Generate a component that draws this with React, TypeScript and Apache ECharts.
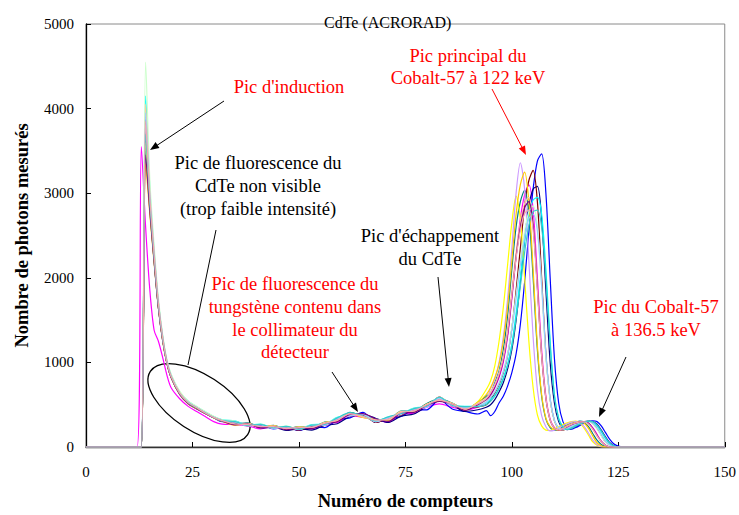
import React, { useEffect, useRef } from "react";
import * as echarts from "echarts";

// Channel grid (x) shared by every spectrum
const channels = [
  0, 12, 13, 14, 15, 16, 17, 18, 19, 20, 22, 24, 26, 28, 30, 32,
  35, 38, 41, 44, 47, 50, 53, 56, 59, 62, 65, 68, 71, 74, 77, 80, 83, 86, 89, 92,
  94, 95, 96, 97, 98, 99, 100, 101, 102, 103, 104, 105, 106, 107, 108, 109, 110,
  111, 112, 113, 114, 115, 116, 117, 118, 119, 120, 121, 122, 123, 124, 125, 126,
  150,
];

const xTicks = [0, 25, 50, 75, 100, 125, 150];
const yTicks = [0, 1000, 2000, 3000, 4000, 5000];

const sMagenta = [
  0, 0, 3550, 2600, 1850, 1380, 1250, 1060, 850, 700, 570, 480, 420, 360, 300, 270,
  265, 250, 215, 240, 205, 225, 215, 280, 290, 370, 350, 330, 290, 390, 400, 470, 510, 470, 440, 470,
  540, 600, 700, 820, 1000, 1300, 1750, 2250, 2700, 2980, 3100, 2800, 2000, 1150, 600, 330, 230,
  200, 210, 235, 260, 280, 295, 300, 285, 230, 150, 70, 25, 5, 0, 0, 0,
  0,
];
const sBlue = [
  0, 0, 0, 3650, 2850, 2200, 1650, 1260, 990, 820, 620, 510, 450, 395, 345, 300,
  300, 255, 260, 215, 235, 195, 240, 230, 320, 345, 410, 290, 330, 360, 440, 440, 560, 450, 420, 390,
  430, 370, 420, 520, 600, 720, 880, 1100, 1450, 1950, 2550, 3050, 3380, 3465, 3000, 2000, 1050,
  520, 300, 220, 210, 230, 255, 280, 300, 310, 300, 250, 170, 90, 35, 10, 0,
  0,
];
const sNavy = [
  0, 0, 0, 3900, 2950, 2280, 1700, 1300, 1010, 840, 640, 525, 465, 405, 350, 315,
  270, 280, 225, 235, 195, 215, 200, 255, 275, 360, 385, 340, 290, 365, 390, 480, 545, 500, 420, 440,
  470, 500, 560, 650, 760, 920, 1150, 1500, 1950, 2450, 2850, 3050, 3080, 2700, 1850, 1000, 520,
  300, 220, 205, 220, 245, 270, 290, 305, 300, 270, 200, 120, 50, 15, 0, 0,
  0,
];
const sMaroon = [
  0, 0, 0, 3750, 2900, 2250, 1680, 1280, 1000, 830, 630, 515, 455, 400, 348, 308,
  295, 250, 265, 220, 235, 200, 250, 255, 335, 370, 375, 290, 345, 380, 445, 475, 590, 485, 470, 475,
  500, 560, 640, 740, 880, 1080, 1400, 1850, 2350, 2850, 3150, 3270, 2900, 2000, 1100, 560, 310,
  220, 200, 215, 240, 265, 285, 300, 305, 280, 220, 140, 60, 20, 0, 0, 0,
  0,
];
const sTeal = [
  0, 0, 0, 3500, 2800, 2200, 1650, 1270, 995, 825, 635, 530, 470, 410, 355, 318,
  275, 285, 240, 255, 215, 240, 230, 295, 310, 410, 360, 330, 320, 425, 425, 515, 565, 520, 445, 525,
  600, 640, 760, 900, 1150, 1550, 2100, 2600, 2900, 3035, 2750, 2000, 1150, 600, 330, 230, 195,
  210, 235, 260, 280, 295, 305, 290, 240, 160, 80, 30, 5, 0, 0, 0, 0,
  0,
];
const sCyan = [
  0, 0, 0, 4150, 3050, 2320, 1720, 1310, 1020, 850, 650, 540, 475, 415, 360, 320,
  310, 260, 270, 225, 245, 210, 265, 270, 350, 380, 395, 305, 355, 390, 460, 480, 585, 495, 480, 490,
  520, 560, 610, 700, 820, 980, 1220, 1580, 2000, 2450, 2780, 2920, 2950, 2750, 2100, 1250, 620,
  340, 240, 210, 225, 250, 275, 295, 305, 295, 250, 180, 100, 40, 10, 0, 0,
  0,
];
const sYellow = [
  0, 0, 0, 3600, 2850, 2230, 1670, 1275, 1000, 828, 628, 518, 458, 398, 346, 306,
  260, 275, 230, 250, 210, 235, 225, 290, 305, 395, 350, 325, 320, 415, 415, 505, 545, 510, 440, 535,
  680, 780, 960, 1250, 1650, 2150, 2650, 2965, 2700, 2000, 1250, 700, 380, 250, 200, 195, 215,
  240, 265, 285, 300, 305, 280, 220, 140, 60, 20, 0, 0, 0, 0, 0, 0,
  0,
];
const sViolet = [
  0, 0, 0, 3800, 2920, 2260, 1690, 1290, 1005, 835, 635, 522, 462, 402, 350, 310,
  295, 248, 262, 218, 236, 204, 252, 254, 332, 364, 386, 298, 342, 384, 442, 468, 570, 486, 464, 500,
  560, 690, 800, 1000, 1300, 1750, 2350, 3000, 3360, 3050, 2200, 1300, 680, 370, 240, 190, 200,
  225, 250, 275, 295, 300, 290, 240, 165, 80, 30, 5, 0, 0, 0, 0, 0,
  0,
];
const sGold = [
  0, 0, 0, 3350, 2750, 2170, 1640, 1255, 985, 818, 622, 512, 452, 396, 344, 304,
  262, 276, 236, 252, 214, 236, 228, 286, 308, 396, 354, 322, 318, 416, 418, 502, 550, 512, 438, 526,
  620, 700, 820, 980, 1250, 1650, 2200, 2750, 3100, 3250, 2900, 2100, 1200, 620, 340, 240, 210,
  200, 225, 255, 275, 290, 300, 280, 220, 130, 50, 15, 0, 0, 0, 0, 0,
  0,
];
const sLightGreen = [
  0, 0, 0, 4550, 3150, 2380, 1760, 1330, 1035, 860, 660, 545, 480, 420, 362, 322,
  306, 258, 270, 228, 246, 212, 260, 268, 346, 378, 392, 304, 352, 394, 456, 484, 586, 494, 476, 494,
  540, 590, 660, 760, 900, 1100, 1420, 1800, 2200, 2550, 2780, 2850, 2600, 1900, 1050, 550, 310,
  225, 205, 220, 245, 270, 290, 300, 300, 270, 210, 130, 55, 15, 0, 0, 0,
  0,
];
const sPeach = [
  0, 0, 0, 4050, 3000, 2300, 1710, 1300, 1012, 840, 642, 528, 466, 406, 352, 312,
  268, 280, 238, 250, 212, 234, 226, 288, 312, 400, 356, 326, 322, 418, 420, 506, 552, 516, 442, 520,
  580, 650, 740, 880, 1080, 1400, 1850, 2300, 2650, 2880, 2950, 2650, 1900, 1100, 580, 320, 225,
  205, 220, 245, 270, 285, 300, 295, 270, 210, 130, 60, 20, 0, 0, 0, 0,
  0,
];
const sLightBlue = [
  0, 0, 0, 3950, 2980, 2290, 1700, 1295, 1008, 836, 638, 526, 464, 404, 350, 310,
  298, 252, 266, 224, 242, 208, 256, 262, 340, 372, 388, 300, 348, 392, 450, 480, 580, 490, 472, 484,
  530, 580, 650, 750, 890, 1080, 1380, 1750, 2150, 2480, 2700, 2750, 2550, 1900, 1100, 580, 320,
  230, 205, 218, 242, 268, 288, 300, 302, 285, 230, 150, 70, 25, 5, 0, 0,
  0,
];
const sPurple = [
  0, 0, 0, 3450, 2780, 2190, 1645, 1262, 992, 822, 625, 514, 455, 397, 345, 305,
  262, 272, 228, 244, 204, 226, 218, 276, 298, 386, 394, 334, 302, 402, 410, 492, 538, 506, 432, 500,
  560, 620, 710, 840, 1030, 1330, 1780, 2250, 2600, 2830, 2900, 2620, 1880, 1080, 570, 315, 222,
  202, 215, 240, 265, 282, 296, 298, 280, 220, 140, 65, 22, 0, 0, 0, 0,
  0,
];
const sSky = [
  0, 0, 0, 3700, 2880, 2240, 1675, 1280, 1002, 832, 634, 524, 463, 404, 350, 311,
  300, 256, 268, 226, 244, 210, 258, 266, 344, 406, 368, 308, 356, 396, 454, 482, 588, 492, 478, 478,
  500, 540, 600, 690, 800, 960, 1180, 1520, 1900, 2300, 2620, 2780, 2800, 2600, 2000, 1200, 600,
  330, 235, 208, 222, 248, 272, 292, 304, 298, 260, 190, 110, 45, 12, 0, 0,
  0,
];
const sPink = [
  0, 0, 0, 3850, 2940, 2270, 1695, 1292, 1006, 834, 636, 524, 463, 403, 350, 312,
  272, 264, 242, 240, 220, 230, 234, 280, 318, 392, 362, 318, 330, 410, 428, 498, 558, 506, 450, 510,
  570, 640, 730, 860, 1050, 1360, 1800, 2230, 2560, 2760, 2800, 2560, 1850, 1080, 575, 318, 224,
  204, 218, 243, 268, 284, 298, 296, 272, 212, 132, 62, 20, 0, 0, 0, 0,
  0,
];

const spectra: { name: string; color: string; values: number[] }[] = [
  { name: "S1", color: "#FF00FF", values: sMagenta },
  { name: "S2", color: "#0000FF", values: sBlue },
  { name: "S3", color: "#000080", values: sNavy },
  { name: "S4", color: "#800000", values: sMaroon },
  { name: "S5", color: "#008080", values: sTeal },
  { name: "S6", color: "#00FFFF", values: sCyan },
  { name: "S7", color: "#FFFF00", values: sYellow },
  { name: "S8", color: "#CC99FF", values: sViolet },
  { name: "S9", color: "#FFCC00", values: sGold },
  { name: "S10", color: "#CCFFCC", values: sLightGreen },
  { name: "S11", color: "#FFCC99", values: sPeach },
  { name: "S12", color: "#99CCFF", values: sLightBlue },
  { name: "S13", color: "#800080", values: sPurple },
  { name: "S14", color: "#33CCCC", values: sSky },
  { name: "S15", color: "#F2A7B0", values: sPink },
];

const FONT = "'Liberation Serif', 'Times New Roman', serif";

function textLine(str: string, x: number, y: number, color: string) {
  return {
    type: "text",
    x,
    y,
    silent: true,
    style: {
      text: str,
      fill: color,
      fontFamily: FONT,
      fontSize: 18.5,
      textAlign: "center",
      textVerticalAlign: "middle",
    },
  };
}

function arrow(x1: number, y1: number, x2: number, y2: number, color: string) {
  const dx = x2 - x1;
  const dy = y2 - y1;
  const len = Math.sqrt(dx * dx + dy * dy);
  const ux = dx / len;
  const uy = dy / len;
  const nx = -uy;
  const ny = ux;
  const hl = 9;
  const hw = 3.5;
  const bx = x2 - ux * hl;
  const by = y2 - uy * hl;
  return [
    {
      type: "line",
      silent: true,
      shape: { x1, y1, x2: bx + ux * 2, y2: by + uy * 2 },
      style: { stroke: color, lineWidth: 1 },
    },
    {
      type: "polygon",
      silent: true,
      shape: {
        points: [
          [x2, y2],
          [bx + nx * hw, by + ny * hw],
          [bx - nx * hw, by - ny * hw],
        ],
      },
      style: { fill: color },
    },
  ];
}

export default function App() {
  const ref = useRef<HTMLDivElement>(null);

  useEffect(() => {
    if (!ref.current) return;
    const chart = echarts.init(ref.current, undefined, { renderer: "svg" });

    const series = spectra.map((s) => ({
      name: s.name,
      type: "line",
      data: channels.map((x, i) => [x, s.values[i]]),
      showSymbol: false,
      symbol: "none",
      smooth: 0.3,
      lineStyle: { color: s.color, width: 1.2 },
      itemStyle: { color: s.color },
      emphasis: { disabled: true },
    }));

    const red = "#FF0000";
    const black = "#000000";

    const graphic: any[] = [
      textLine("Pic d'induction", 289, 87, red),
      ...arrow(224, 101, 150, 150, black),

      textLine("Pic de fluorescence du", 258, 163, black),
      textLine("CdTe non visible", 258, 186, black),
      textLine("(trop faible intensité)", 258, 209, black),
      {
        type: "line",
        silent: true,
        shape: { x1: 216, y1: 230, x2: 188, y2: 365 },
        style: { stroke: black, lineWidth: 1 },
      },
      {
        type: "ellipse",
        silent: true,
        x: 199,
        y: 403,
        rotation: -0.576,
        shape: { cx: 0, cy: 0, rx: 58, ry: 28 },
        style: { stroke: black, lineWidth: 1.3, fill: "none" },
      },

      textLine("Pic principal du", 468, 56, red),
      textLine("Cobalt-57 à 122 keV", 468, 78, red),
      ...arrow(492, 89, 526, 155, red),

      textLine("Pic d'échappement", 430, 236, black),
      textLine("du CdTe", 430, 259, black),
      ...arrow(438, 277, 449, 387, black),

      textLine("Pic de fluorescence du", 295, 284, red),
      textLine("tungstène contenu dans", 295, 307, red),
      textLine("le collimateur du", 295, 330, red),
      textLine("détecteur", 295, 352, red),
      ...arrow(332, 372, 358, 412, black),

      textLine("Pic du Cobalt-57", 656, 307, red),
      textLine("à 136.5 keV", 656, 330, red),
      ...arrow(626, 357, 599, 417, black),
    ];

    chart.setOption({
      animation: false,
      backgroundColor: "#ffffff",
      title: {
        text: "CdTe (ACRORAD)",
        left: 319,
        top: 9,
        textStyle: {
          fontFamily: FONT,
          fontSize: 16,
          fontWeight: "normal",
          color: "#000",
        },
      },
      grid: {
        left: 86,
        right: 14,
        top: 24,
        bottom: 61,
        show: true,
        borderColor: "#8a8a8a",
        borderWidth: 1,
        backgroundColor: "transparent",
      },
      xAxis: {
        type: "value",
        min: xTicks[0],
        max: xTicks[xTicks.length - 1],
        interval: 25,
        name: "Numéro de compteurs",
        nameLocation: "middle",
        nameGap: 44,
        nameTextStyle: {
          fontFamily: FONT,
          fontSize: 18.5,
          fontWeight: "bold",
          color: "#000",
        },
        axisLine: { show: true, onZero: false, lineStyle: { color: "#333", width: 1.3 } },
        axisTick: { show: true, inside: true, length: 5, lineStyle: { color: "#000" } },
        axisLabel: {
          fontFamily: FONT,
          fontSize: 15,
          color: "#000",
          margin: 17,
          formatter: (v: number) => String(v),
        },
        splitLine: { show: false },
      },
      yAxis: {
        type: "value",
        min: yTicks[0],
        max: yTicks[yTicks.length - 1],
        interval: 1000,
        name: "Nombre de photons mesurés",
        nameLocation: "middle",
        nameGap: 55,
        nameTextStyle: {
          fontFamily: FONT,
          fontSize: 18.5,
          fontWeight: "bold",
          color: "#000",
        },
        axisLine: { show: true, lineStyle: { color: "#000", width: 1.3 } },
        axisTick: { show: true, inside: true, length: 5, lineStyle: { color: "#000" } },
        axisLabel: {
          fontFamily: FONT,
          fontSize: 15,
          color: "#000",
          margin: 12,
          formatter: (v: number) => String(v),
        },
        splitLine: { show: false },
      },
      series,
      graphic,
    });

    return () => {
      chart.dispose();
    };
  }, []);

  return (
    <div
      ref={ref}
      style={{
        position: "fixed",
        left: 0,
        top: 0,
        width: 739,
        height: 515,
        background: "#fff",
      }}
    />
  );
}
